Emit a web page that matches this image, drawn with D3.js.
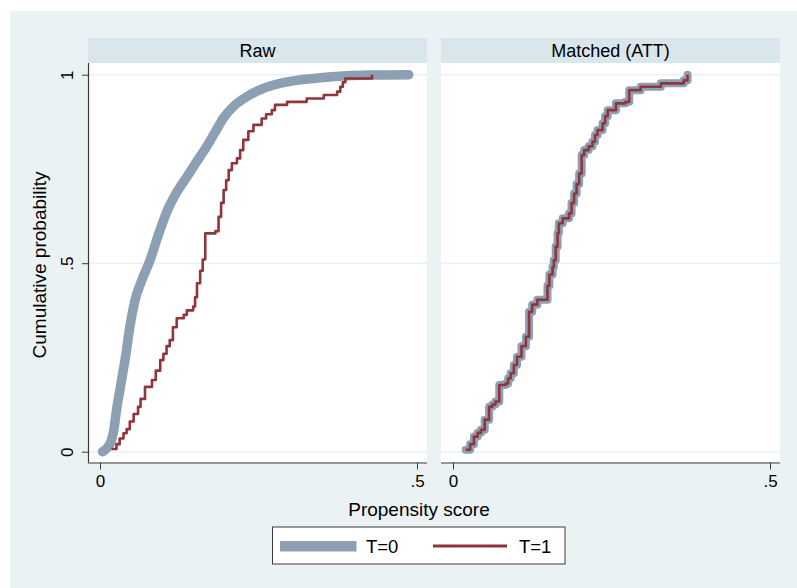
<!DOCTYPE html>
<html><head><meta charset="utf-8">
<script src="https://cdn.jsdelivr.net/npm/d3@7"></script>
<style>body{margin:0;background:#fff}svg{display:block}text{font-family:"Liberation Sans",Arial,sans-serif;fill:#000}</style>
</head><body><svg id="c" width="797" height="588"></svg>
<script>
// ---- data ----
const panels = ["Raw", "Matched (ATT)"];
const xTicks = [0, 0.5];
const xTickLabels = ["0", ".5"];
const yTicks = [0, 0.5, 1];
const yTickLabels = ["0", ".5", "1"];
const seriesNames = ["T=0", "T=1"];

// Raw, T=0 (many controls, looks continuous)
const rawT0Score = [0.004,0.012,0.018,0.022,0.026,0.031,0.035,0.0395,0.047,0.055,0.066,0.079,0.09,0.105,0.12,0.137,0.152,0.168,0.18,0.195,0.212,0.232,0.255,0.284,0.31,0.337,0.39,0.43,0.487];
const rawT0Cdf   = [0,0.012,0.03,0.06,0.11,0.16,0.2,0.243,0.33,0.40,0.455,0.508,0.565,0.635,0.685,0.729,0.768,0.809,0.843,0.886,0.918,0.942,0.962,0.977,0.985,0.99,0.997,0.999,1.0];

// Raw, T=1 (step ECDF)
const rawT1Score = [0.018,0.026,0.031,0.037,0.042,0.047,0.053,0.060,0.064,0.071,0.082,0.088,0.095,0.1,0.105,0.11,0.115,0.121,0.132,0.137,0.147,0.150,0.153,0.158,0.162,0.166,0.182,0.187,0.191,0.195,0.199,0.203,0.208,0.216,0.221,0.226,0.234,0.242,0.255,0.262,0.271,0.276,0.295,0.326,0.353,0.374,0.379,0.383,0.387,0.429];
const rawT1Cdf   = [0.007,0.02,0.035,0.049,0.06,0.08,0.1,0.119,0.14,0.172,0.19,0.215,0.243,0.26,0.28,0.296,0.33,0.354,0.363,0.375,0.385,0.41,0.447,0.48,0.51,0.579,0.585,0.623,0.66,0.694,0.72,0.747,0.765,0.778,0.80,0.827,0.85,0.867,0.884,0.895,0.906,0.92,0.928,0.937,0.946,0.955,0.968,0.98,0.99,1.0];

// Matched (ATT): T=1 and reweighted T=0 coincide
const matchedT1Score = [0.02,0.027,0.033,0.039,0.044,0.05,0.057,0.062,0.067,0.073,0.083,0.087,0.091,0.096,0.101,0.108,0.115,0.12,0.125,0.133,0.149,0.152,0.157,0.159,0.162,0.165,0.167,0.173,0.183,0.187,0.191,0.195,0.199,0.203,0.207,0.214,0.22,0.224,0.228,0.236,0.24,0.244,0.257,0.272,0.278,0.296,0.328,0.364,0.37];
const matchedT1Cdf   = [0.005,0.02,0.04,0.05,0.058,0.085,0.119,0.125,0.133,0.177,0.181,0.195,0.208,0.23,0.252,0.28,0.305,0.371,0.39,0.403,0.44,0.47,0.49,0.508,0.544,0.58,0.606,0.619,0.632,0.66,0.685,0.71,0.738,0.787,0.8,0.81,0.822,0.84,0.853,0.871,0.89,0.906,0.924,0.928,0.959,0.968,0.977,0.985,1.0];
const matchedT0Score = matchedT1Score.slice();
const matchedT0Cdf   = matchedT1Cdf.slice();

// ---- layout ----
const FONT = '"Liberation Sans",Arial,sans-serif';
const svg = d3.select("#c");
const C0 = "#8c9fb3", C1 = "#90353b", BG = "#eaf2f3", STRIP = "#d9e6eb", AX = "#3a3a3a";
svg.append("rect").attr("x",10).attr("y",11).attr("width",787).attr("height",577).attr("fill",BG);

const panelX = [88, 441], panelW = 339, stripTop = 38, plotTop = 63, plotBot = 462.5;
const y = d3.scaleLinear().domain([0,1]).range([451.7, 74.7]);

const sets = [
  [{x: rawT0Score, y: rawT0Cdf, c: C0, w: 9.5, step: false}, {x: rawT1Score, y: rawT1Cdf, c: C1, w: 2.6, step: true}],
  [{x: matchedT0Score, y: matchedT0Cdf, c: C0, w: 8, step: true}, {x: matchedT1Score, y: matchedT1Cdf, c: C1, w: 2.6, step: true}]
];

panels.forEach((name, i) => {
  const x0 = panelX[i];
  const x = d3.scaleLinear().domain([0, 0.5]).range([x0 + 12, x0 + 12 + 317]);
  const g = svg.append("g");
  g.append("rect").attr("x", x0).attr("y", stripTop).attr("width", panelW).attr("height", plotTop - stripTop).attr("fill", STRIP);
  g.append("text").attr("x", x0 + panelW/2).attr("y", 57).attr("text-anchor","middle").attr("font-size",18).text(name);
  g.append("rect").attr("x", x0).attr("y", plotTop).attr("width", panelW).attr("height", plotBot - plotTop).attr("fill","#fff");
  g.selectAll(".grid").data(yTicks).join("line")
    .attr("x1", x0).attr("x2", x0 + panelW).attr("y1", d => y(d)).attr("y2", d => y(d))
    .attr("stroke", BG).attr("stroke-width", 1.5);

  sets[i].forEach(s => {
    const pts = s.x.map((v, k) => [x(v), y(s.y[k])]);
    const line = d3.line().curve(s.step ? d3.curveStepAfter : d3.curveMonotoneX);
    g.append("path").attr("d", line(pts)).attr("fill","none").attr("stroke", s.c)
      .attr("stroke-width", s.w).attr("stroke-linejoin","round").attr("stroke-linecap", s.w > 5 ? "round" : "butt");
  });

  // x axis
  const xa = g.append("g").attr("transform", `translate(0,${plotBot})`)
    .call(d3.axisBottom(x).tickValues(xTicks).tickFormat((d, k) => xTickLabels[k]).tickSize(7).tickPadding(5));
  xa.select(".domain").attr("d", `M${x0},0.5H${x0 + panelW}`).attr("stroke", AX).attr("stroke-width", 1.2);
  xa.selectAll(".tick line").attr("stroke", AX);
  xa.selectAll(".tick text").attr("font-size", 17).attr("font-family", FONT).attr("fill","#000");

  if (i === 0) {
    const ya = g.append("g").attr("transform", `translate(${x0},0)`)
      .call(d3.axisLeft(y).tickValues(yTicks).tickFormat((d, k) => yTickLabels[k]).tickSize(6).tickPadding(0));
    ya.select(".domain").attr("d", `M0.5,${plotTop}V${plotBot}`).attr("stroke", AX).attr("stroke-width", 1.2);
    ya.selectAll(".tick line").attr("stroke", AX);
    ya.selectAll(".tick text").attr("font-size", 17).attr("font-family", FONT).attr("fill","#000")
      .attr("x", null).attr("dy", null).attr("text-anchor","middle")
      .attr("transform", "translate(-15,0) rotate(-90)").attr("y", 0);
  }
});

// axis titles
svg.append("text").attr("x", 419).attr("y", 516).attr("text-anchor","middle").attr("font-size",19).text("Propensity score");
svg.append("text").attr("transform","translate(46,265) rotate(-90)").attr("text-anchor","middle").attr("font-size",19).text("Cumulative probability");

// legend
const lg = svg.append("g");
lg.append("rect").attr("x",272.5).attr("y",527).attr("width",292.5).attr("height",37).attr("fill","#fff").attr("stroke",AX).attr("stroke-width",1);
lg.append("rect").attr("x",280).attr("y",541).attr("width",76.5).attr("height",10.5).attr("fill",C0);
lg.append("text").attr("x",366).attr("y",553).attr("font-size",18.5).text(seriesNames[0]);
lg.append("line").attr("x1",433).attr("x2",507).attr("y1",546).attr("y2",546).attr("stroke",C1).attr("stroke-width",3);
lg.append("text").attr("x",519).attr("y",553).attr("font-size",18.5).text(seriesNames[1]);
</script></body></html>
